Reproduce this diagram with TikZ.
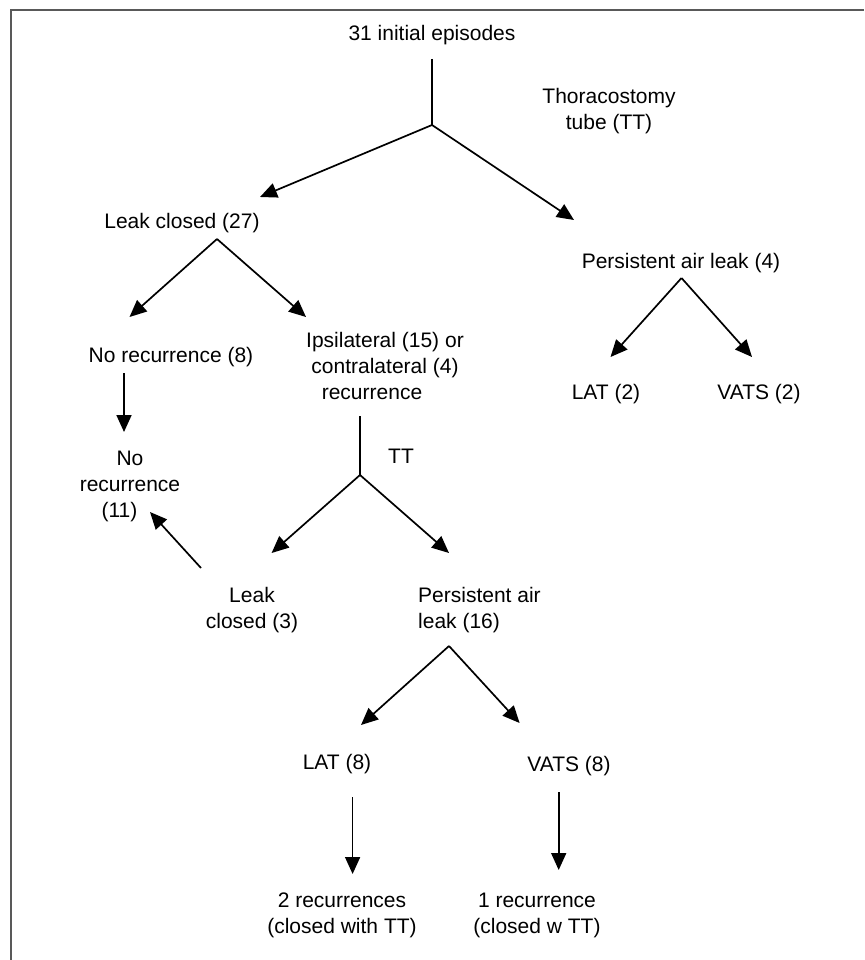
\documentclass[tikz,border=0pt]{standalone}
\usepackage{fontspec}
\setmainfont{Liberation Sans}
\usetikzlibrary{arrows.meta}
\begin{document}
\begin{tikzpicture}[x=1pt,y=-1pt,
  lbl/.style={inner sep=0pt, font=\fontsize{21}{26}\selectfont, align=center},
  conn/.style={line width=1.7pt, black},
  arr/.style={conn, -{Triangle[length=17pt,width=15pt]}},
  frame/.style={line width=1.5pt, gray!70!black}]
\useasboundingbox (0,0) rectangle (864,960);
\draw[frame] (11,960) -- (11,10) -- (864,10);

% text nodes
\node[lbl] (init) at (432,35) {31 initial episodes};
\node[lbl] (thor) at (609,111) {Thoracostomy\\tube (TT)};
\node[lbl] (lc27) at (182,223) {Leak closed (27)};
\node[lbl] (pal4) at (681,263) {Persistent air leak (4)};
\node[lbl] (nr8) at (171,357) {No recurrence (8)};
\node[lbl] (ipsi) at (385,366) {Ipsilateral (15) or\\contralateral (4)\\recurrence\hspace*{26pt}};
\node[lbl] (lat2) at (606,394) {LAT (2)};
\node[lbl] (vats2) at (759,394) {VATS (2)};
\node[lbl] (nr11) at (130,486) {No\\recurrence\\(11)\hspace*{21pt}};
\node[lbl] (tt) at (401,456) {TT};
\node[lbl] (lc3) at (252,610) {Leak\\closed (3)};
\node[lbl, anchor=west, align=left] (pal16) at (418,610) {Persistent air\\leak (16)};
\node[lbl] (lat8) at (337,764) {LAT (8)};
\node[lbl] (vats8) at (569,766) {VATS (8)};
\node[lbl] (rec2) at (342,915) {2 recurrences\\(closed with TT)};
\node[lbl] (rec1) at (537,915) {1 recurrence\\(closed w TT)};

% connector points
\coordinate (s0) at (432,59);
\coordinate (j0) at (432,125);
\coordinate (t1) at (260,197);
\coordinate (t2) at (574,220);
\coordinate (j1) at (217,239);
\coordinate (t3) at (129.5,317);
\coordinate (t4) at (306,317);
\coordinate (j2) at (681.5,278);
\coordinate (t5) at (610.5,357);
\coordinate (t6) at (752,357);
\coordinate (s7) at (124,373);
\coordinate (t7) at (124,432);
\coordinate (s8) at (201,568);
\coordinate (t8) at (150,512);
\coordinate (s9) at (360,416);
\coordinate (j9) at (360,475);
\coordinate (t9a) at (271.6,553);
\coordinate (t9b) at (449,553);
\coordinate (j10) at (449,646);
\coordinate (t10a) at (361,725);
\coordinate (t10b) at (519.6,723);
\coordinate (s11) at (352.6,797);
\coordinate (t11) at (352.6,874);
\coordinate (s12) at (558.7,792);
\coordinate (t12) at (558.7,870);

% connectors
\draw[conn] (s0) -- (j0);
\draw[arr] (j0) -- (t1);
\draw[arr] (j0) -- (t2);
\draw[arr] (j1) -- (t3);
\draw[arr] (j1) -- (t4);
\draw[arr] (j2) -- (t5);
\draw[arr] (j2) -- (t6);
\draw[arr] (s7) -- (t7);
\draw[arr] (s8) -- (t8);
\draw[conn] (s9) -- (j9);
\draw[arr] (j9) -- (t9a);
\draw[arr] (j9) -- (t9b);
\draw[arr] (j10) -- (t10a);
\draw[arr] (j10) -- (t10b);
\draw[arr] (s11) -- (t11);
\draw[arr] (s12) -- (t12);
\end{tikzpicture}
\end{document}
